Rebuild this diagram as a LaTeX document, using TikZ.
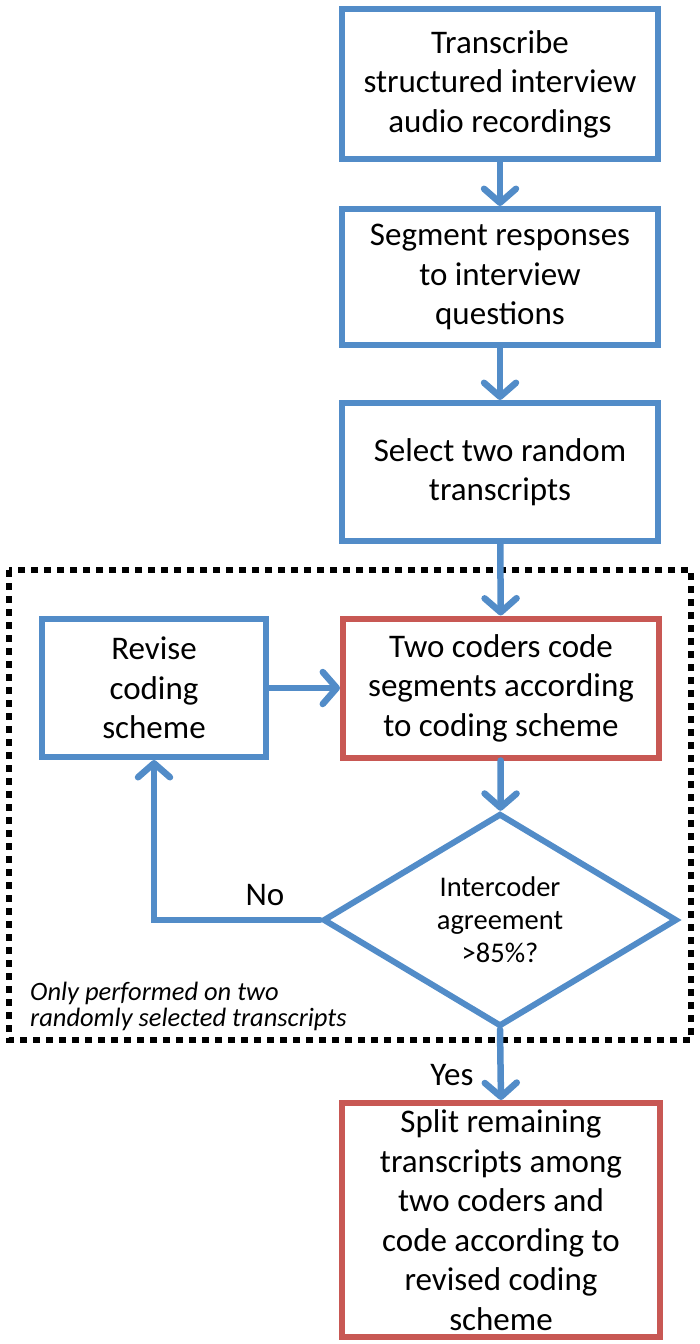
\documentclass[tikz,border=0pt]{standalone}
\usepackage{fontspec}
\setmainfont{Carlito}
\usetikzlibrary{arrows.meta,shapes.geometric}
\definecolor{flowblue}{RGB}{82,140,200}
\definecolor{flowred}{RGB}{200,88,84}
\tikzset{
  box/.style={draw=flowblue, line width=6pt, align=center, inner sep=0pt,
    minimum width=316pt, font=\fontsize{33}{39.5}\selectfont},
  redbox/.style={box, draw=flowred},
  decision/.style={draw=flowblue, line width=6pt, diamond, align=center, inner sep=0pt,
    minimum width=354pt, minimum height=213pt, font=\fontsize{28.5}{33}\selectfont},
  flow/.style={draw=flowblue, line width=6.5pt, line cap=round,
    -{Straight Barb[length=14pt,width=32pt,round]}},
  lbl/.style={font=\fontsize{33}{39.5}\selectfont, inner sep=0pt},
  note/.style={font=\fontsize{26.5}{26}\selectfont\itshape, align=left, inner sep=0pt},
  group/.style={draw=black, line width=5.5pt, dash pattern=on 7pt off 6pt}
}
\begin{document}
\begin{tikzpicture}[x=1pt,y=-1pt]
\useasboundingbox (0,0) rectangle (700,1344);
\draw[group] (9,570) rectangle (691,1040);
\node[box, minimum height=150pt] (b1) at (500,84) {Transcribe\\structured interview\\audio recordings};
\node[box, minimum height=136pt] (b2) at (500,277) {Segment responses\\to interview\\questions};
\node[box, minimum height=138pt] (b3) at (500,472) {Select two random\\transcripts};
\node[redbox, minimum height=139pt] (code) at (501,688) {Two coders code\\segments according\\to coding scheme};
\node[box, minimum width=224pt, minimum height=138pt] (rev) at (154,688) {Revise\\coding\\scheme};
\node[decision] (dec) at (500,920) {Intercoder\\agreement\\>85\%?};
\node[redbox, minimum width=318pt, minimum height=234pt] (final) at (501,1220) {Split remaining\\transcripts among\\two coders and\\code according to\\revised coding\\scheme};
\node[note, anchor=west] (nt) at (30,1006) {Only performed on two\\randomly selected transcripts};
\draw[flow] (b1) -- (b2);
\draw[flow] (b2) -- (b3);
\draw[flow] (b3) -- (code);
\draw[flow] (rev) -- (code);
\draw[flow] (code) -- (dec);
\draw[flow] (dec.west) -| (rev.south);
\draw[flow] (dec.south) -- (final.north);
\node[lbl] (no) at (265,895) {No};
\node[lbl] (yes) at (452,1075) {Yes};
\end{tikzpicture}
\end{document}
